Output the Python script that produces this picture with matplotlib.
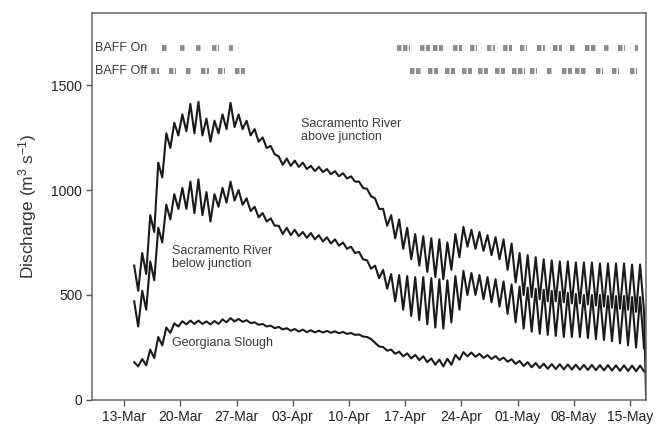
import numpy as np
import pandas as pd
import matplotlib
matplotlib.use("Agg")
import matplotlib.pyplot as plt

plt.rcParams['font.family'] = ['Liberation Sans', 'DejaVu Sans']
plt.rcParams['mathtext.fontset'] = 'custom'
plt.rcParams['mathtext.rm'] = 'Liberation Sans'
plt.rcParams['mathtext.it'] = 'Liberation Sans:italic'

# daily high / low tidal discharge (m3/s), one pair per day from 14-Mar
start = pd.Timestamp('2011-03-14')

above_hi = [640, 700, 880, 1130, 1270, 1320, 1360, 1410, 1420, 1340,
            1330, 1360, 1415, 1360, 1330, 1290, 1250, 1210, 1160, 1150,
            1140, 1130, 1115, 1110, 1100, 1090, 1080, 1065, 1040, 1005,
            960, 910, 880, 860, 820, 790, 780, 770, 765, 750,
            790, 825, 810, 800, 785, 775, 765, 745, 700, 690,
            680, 670, 665, 660, 660, 655, 655, 655, 650, 650,
            650, 650, 645, 645]
above_lo = [520, 600, 800, 1060, 1200, 1260, 1280, 1270, 1260, 1230,
            1270, 1290, 1300, 1290, 1260, 1230, 1200, 1170, 1120, 1115,
            1110, 1100, 1090, 1085, 1075, 1065, 1055, 1040, 1010, 970,
            910, 830, 770, 720, 670, 640, 610, 585, 575, 620,
            680, 730, 720, 710, 690, 670, 620, 560, 500, 490,
            480, 470, 470, 465, 460, 460, 455, 450, 445, 440,
            435, 430, 420, 420]

below_hi = [470, 520, 660, 820, 930, 980, 1010, 1040, 1050, 990,
            980, 1010, 1040, 1000, 960, 920, 890, 865, 830, 820,
            810, 800, 795, 785, 775, 765, 750, 730, 705, 665,
            640, 620, 600, 595, 590, 585, 585, 580, 575, 570,
            590, 615, 605, 595, 585, 575, 565, 550, 540, 535,
            530, 525, 520, 515, 510, 505, 500, 500, 500, 495,
            495, 495, 490, 490]
below_lo = [350, 430, 570, 750, 860, 910, 910, 890, 880, 850,
            920, 940, 950, 930, 900, 870, 850, 830, 790, 785,
            780, 772, 765, 755, 745, 735, 720, 700, 670, 625,
            580, 530, 470, 430, 400, 380, 360, 345, 340, 370,
            430, 500, 500, 480, 465, 445, 410, 370, 340, 325,
            315, 310, 305, 300, 300, 300, 295, 290, 285, 280,
            270, 260, 250, 245]

georg_hi = [180, 195, 240, 300, 345, 365, 375, 378, 378, 374,
            376, 384, 390, 386, 380, 370, 362, 354, 348, 342,
            338, 335, 332, 330, 329, 327, 324, 319, 312, 300,
            272, 252, 240, 230, 222, 215, 208, 198, 192, 196,
            215, 228, 226, 220, 214, 209, 202, 194, 186, 180,
            176, 173, 171, 170, 169, 168, 167, 167, 166, 166,
            165, 165, 164, 164]
georg_lo = [160, 165, 200, 260, 320, 350, 360, 362, 362, 360,
            362, 370, 374, 372, 366, 358, 350, 342, 336, 330,
            326, 323, 322, 321, 320, 318, 315, 310, 302, 290,
            255, 235, 220, 208, 198, 190, 180, 168, 160, 168,
            192, 208, 206, 200, 195, 190, 182, 172, 162, 156,
            152, 149, 147, 146, 145, 144, 143, 142, 141, 140,
            139, 138, 137, 136]

# BAFF operation periods, days after 13-Mar
baff_on = [(4.7, 5.5), (6.9, 7.7), (9.0, 9.7), (11.0, 11.8), (13.1, 13.6),
           (34.0, 35.6), (36.9, 38.1), (38.5, 39.7), (41.0, 42.1), (43.1, 44.0),
           (45.2, 46.2), (47.2, 48.3), (49.3, 50.2), (51.4, 52.4), (53.4, 54.5),
           (55.5, 56.2), (57.4, 58.7), (59.7, 60.5), (61.5, 62.4), (63.6, 64.0)]
baff_off = [(3.4, 4.4), (5.6, 6.4), (7.7, 8.5), (9.6, 10.6), (11.7, 12.6), (13.8, 15.1),
            (35.6, 37.1), (37.9, 39.1), (40.0, 41.2), (42.1, 43.3), (44.1, 45.3),
            (46.2, 47.4), (48.3, 49.9), (50.6, 51.4), (52.7, 53.4), (54.5, 55.8),
            (56.2, 57.7), (58.7, 59.6), (60.8, 61.6), (63.0, 63.9)]

tick_dates = pd.date_range('2011-03-13', periods=10, freq='7D')


def tidal(hi, lo):
    vals = np.column_stack([hi, lo]).ravel()
    t = start + pd.to_timedelta(np.arange(len(vals)) * 0.5 + 0.25, unit='D')
    return t, vals


ref = pd.Timestamp('2011-03-13')
line_kw = dict(color='#1a1a1a', lw=1.5)

fig = plt.figure(figsize=(6.62, 4.30), dpi=100)
ax = fig.add_axes([0.139, 0.0698, 0.837, 0.9])

t, v = tidal(above_hi, above_lo)
t = t.append(pd.DatetimeIndex([pd.Timestamp('2011-05-17')]))
v = np.append(v, 0)
ax.plot(t, v, **line_kw)
t, v = tidal(below_hi, below_lo)
ax.plot(t, v, **line_kw)
t, v = tidal(georg_hi, georg_lo)
ax.plot(t, v, **line_kw)

for rows, yv in ((baff_on, 1676), (baff_off, 1567)):
    xs = [ref + pd.Timedelta(days=a) for a, b in rows]
    xe = [ref + pd.Timedelta(days=b) for a, b in rows]
    ax.hlines([yv] * len(rows), xs, xe, colors='#8c8c8c', lw=4.3,
              linestyles=(0, (0.75, 0.25)))

txt = dict(fontsize=9, color='#3a3a3a')
ax.text(ref - pd.Timedelta(days=3.6), 1676, 'BAFF On', va='center', **txt)
ax.text(ref - pd.Timedelta(days=3.6), 1567, 'BAFF Off', va='center', **txt)
ax.text(ref + pd.Timedelta(days=22.0), 1345, 'Sacramento River\nabove junction', va='top', **txt)
ax.text(ref + pd.Timedelta(days=6.0), 740, 'Sacramento River\nbelow junction', va='top', **txt)
ax.text(ref + pd.Timedelta(days=6.0), 300, 'Georgiana Slough', va='top', **txt)

ax.set_xlim(pd.Timestamp('2011-03-09'), pd.Timestamp('2011-05-17'))
ax.set_ylim(0, 1843)
ax.set_xticks(tick_dates)
ax.set_xticklabels([d.strftime('%d-%b') for d in tick_dates])
ax.set_yticks([0, 500, 1000, 1500])
ax.tick_params(direction='out', length=4, width=1, color='#555555',
               labelsize=10, labelcolor='#222222', pad=3)
for s in ax.spines.values():
    s.set_color('#666666')
    s.set_linewidth(1.1)
ax.set_ylabel('Discharge (m$^3$ s$^{-1}$)', fontsize=12.5, color='#333333')
ax.yaxis.set_label_coords(-0.095, 0.5)

fig.savefig('out.png', dpi=100)
